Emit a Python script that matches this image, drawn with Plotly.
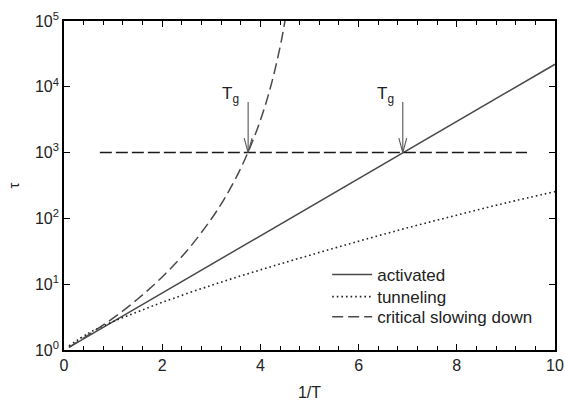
import numpy as np
import plotly.graph_objects as go

# ---- data ----
act_x = [0.1, 2, 4, 6, 8, 10]
act_tau = [1.1, 7.4, 55, 400, 2980, 22000]

tun_x = [0.1, 0.5, 1, 1.5, 2, 3, 4, 5, 6, 7, 8, 9, 10]
tun_tau = [1.15, 1.8, 2.7, 3.8, 5.3, 9.6, 16.5, 27.5, 45, 72, 112, 172, 255]

crit_x = [0.1, 0.5, 1, 1.5, 2, 2.5, 3, 3.25, 3.5, 3.75, 4, 4.2, 4.4, 4.5, 4.55]
crit_tau = [1.1, 1.7, 3.05, 5.95, 12.9, 32, 98, 190, 410, 1020, 3100, 9500, 40000, 100000, 170000]

tg_line_x = [0.73, 9.43]
tg_line_tau = [1000, 1000]

tg_x = [3.75, 6.9]          # arrow positions
tg_tip_tau = 1000           # arrow tip
tg_top_tau = 5900           # arrow tail
tg_label_x = [3.4, 6.55]
tg_label_tau = 7400

y_tickvals = [1, 10, 100, 1000, 10000, 100000]
y_ticktext = ["10<sup>0</sup>", "10<sup>1</sup>", "10<sup>2</sup>",
              "10<sup>3</sup>", "10<sup>4</sup>", "10<sup>5</sup>"]
x_tickvals = [0, 2, 4, 6, 8, 10]

FONT = "Liberation Sans, Arial, Helvetica, sans-serif"
CURVE = "#4a4a4a"
TXT = "#222222"

fig = go.Figure()
fig.add_trace(go.Scatter(x=act_x, y=act_tau, mode="lines", name="activated",
                         legend="legend",
                         line=dict(color=CURVE, width=1.5)))
fig.add_trace(go.Scatter(x=tun_x, y=tun_tau, mode="lines", name="tunneling",
                         legend="legend2",
                         line=dict(color="#222222", width=1.6, dash="1.6px,3px", shape="spline")))
fig.add_trace(go.Scatter(x=crit_x, y=crit_tau, mode="lines", name="critical slowing down",
                         legend="legend3",
                         line=dict(color=CURVE, width=1.5, dash="11px,5px", shape="spline")))
fig.add_trace(go.Scatter(x=tg_line_x, y=tg_line_tau, mode="lines", showlegend=False,
                         line=dict(color="#1a1a1a", width=1.5, dash="12px,4px")))

# arrows (shaft + open V head)
hw = 0.08
hh = 10 ** 0.22
ax_x, ax_y = [], []
for xv in tg_x:
    ax_x += [xv, xv, None, xv - hw, xv, xv + hw, None]
    ax_y += [tg_top_tau, tg_tip_tau, None, tg_tip_tau * hh, tg_tip_tau, tg_tip_tau * hh, None]
fig.add_trace(go.Scatter(x=ax_x, y=ax_y, mode="lines", showlegend=False,
                         line=dict(color="#555555", width=1.1)))

for lx in tg_label_x:
    fig.add_annotation(x=lx, y=np.log10(tg_label_tau), text="T<sub>g</sub>",
                       showarrow=False, xanchor="center", yanchor="middle",
                       font=dict(family=FONT, size=17, color=TXT))

fig.update_xaxes(range=[0, 10], tickvals=x_tickvals, ticks="inside", ticklen=6,
                 tickwidth=1.3, tickcolor="black", showline=True, linecolor="black",
                 linewidth=1.6, mirror="ticks", showgrid=False, zeroline=False,
                 automargin=False,
                 minor=dict(dtick=0.4, tick0=0, ticks="inside", ticklen=4,
                            tickwidth=1.2, tickcolor="black", showgrid=False),
                 title=dict(text="1/T", font=dict(family=FONT, size=16, color=TXT),
                            standoff=18),
                 tickfont=dict(family=FONT, size=16, color=TXT))
fig.update_yaxes(type="log", range=[0, 5], tickvals=y_tickvals, ticktext=y_ticktext,
                 ticks="inside", ticklen=6, tickwidth=1.3, tickcolor="black",
                 showline=True, linecolor="black", linewidth=1.6, mirror="ticks",
                 showgrid=False, zeroline=False, automargin=False,
                 title=dict(text="τ", font=dict(family=FONT, size=15, color=TXT),
                            standoff=12),
                 tickfont=dict(family=FONT, size=16, color=TXT))

leg_common = dict(x=0.536, xanchor="left", yanchor="middle",
                  bgcolor="rgba(0,0,0,0)", borderwidth=0,
                  font=dict(family=FONT, size=17, color=TXT), itemwidth=40)

fig.update_layout(width=565, height=401, margin=dict(l=64, r=10, t=21, b=51),
                  plot_bgcolor="white", paper_bgcolor="white",
                  font=dict(family=FONT, size=15, color=TXT),
                  legend=dict(y=0.228, **leg_common),
                  legend2=dict(y=0.161, **leg_common),
                  legend3=dict(y=0.100, **leg_common))

fig.write_html("out.html", config={"displayModeBar": False},
               post_script="document.body.style.margin='0';document.body.style.padding='0';")
